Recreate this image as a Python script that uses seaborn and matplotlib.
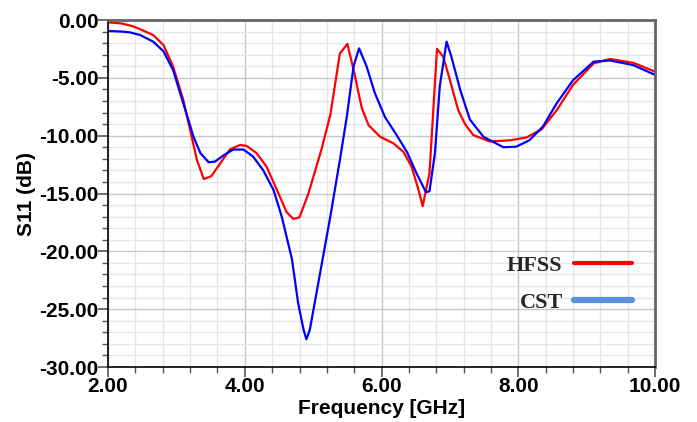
import numpy as np
import pandas as pd
import matplotlib
matplotlib.use("Agg")
import matplotlib.pyplot as plt
from matplotlib.lines import Line2D
from matplotlib.ticker import MultipleLocator, FormatStrFormatter
import seaborn as sns

hfss_f = [2.0, 2.2, 2.37, 2.47, 2.66, 2.81, 2.95, 3.10, 3.20, 3.30, 3.40, 3.51, 3.64, 3.78,
          3.93, 4.03, 4.17, 4.32, 4.47, 4.61, 4.71, 4.80, 4.93, 5.05, 5.12, 5.25, 5.39, 5.50,
          5.59, 5.71, 5.81, 5.98, 6.17, 6.32, 6.44, 6.54, 6.60, 6.70, 6.81, 6.90, 7.00, 7.12,
          7.22, 7.34, 7.58, 7.88, 8.12, 8.34, 8.56, 8.80, 9.10, 9.34, 9.68, 10.0]
hfss_s11 = [-0.2, -0.3, -0.55, -0.8, -1.3, -2.16, -4.0, -6.9, -9.5, -12.1, -13.75, -13.5,
            -12.4, -11.2, -10.8, -10.9, -11.5, -12.7, -14.7, -16.6, -17.2, -17.05, -15.0,
            -12.6, -11.2, -8.2, -2.9, -2.07, -4.3, -7.6, -9.1, -10.1, -10.65, -11.4, -12.7,
            -14.7, -16.1, -13.25, -2.5, -3.17, -5.2, -7.8, -9.0, -9.95, -10.5, -10.4, -10.15,
            -9.45, -7.8, -5.6, -3.75, -3.37, -3.7, -4.47]

cst_f = [2.0, 2.2, 2.32, 2.47, 2.66, 2.81, 2.95, 3.10, 3.25, 3.35, 3.47, 3.56, 3.69, 3.83,
         3.98, 4.12, 4.27, 4.42, 4.54, 4.69, 4.78, 4.86, 4.90, 4.95, 5.10, 5.25, 5.39, 5.49,
         5.59, 5.67, 5.78, 5.90, 6.05, 6.22, 6.37, 6.51, 6.65, 6.70, 6.78, 6.85, 6.95, 7.02,
         7.15, 7.29, 7.49, 7.78, 7.97, 8.16, 8.36, 8.56, 8.80, 9.10, 9.34, 9.68, 10.0]
cst_s11 = [-0.95, -1.0, -1.07, -1.3, -1.87, -2.7, -4.3, -7.2, -10.1, -11.5, -12.3, -12.25,
           -11.7, -11.2, -11.2, -11.8, -13.0, -14.7, -17.0, -20.7, -24.5, -26.8, -27.6,
           -26.8, -21.9, -17.0, -12.1, -8.4, -4.0, -2.45, -4.0, -6.3, -8.4, -9.95, -11.4,
           -13.25, -14.9, -14.8, -11.5, -5.75, -1.87, -3.17, -6.05, -8.6, -10.1, -11.0,
           -10.95, -10.4, -9.2, -7.2, -5.2, -3.6, -3.5, -3.9, -4.75]

series_names = ["HFSS", "CST"]
x_ticks = [2.0, 4.0, 6.0, 8.0, 10.0]
y_ticks = [0.0, -5.0, -10.0, -15.0, -20.0, -25.0, -30.0]

df = pd.concat([
    pd.DataFrame({"f": hfss_f, "s11": hfss_s11, "src": "HFSS"}),
    pd.DataFrame({"f": cst_f, "s11": cst_s11, "src": "CST"}),
])

sns.set_theme(style="white")
plt.rcParams["font.family"] = ["Liberation Sans", "DejaVu Sans"]

fig = plt.figure(figsize=(6.97, 4.22), dpi=100)
ax = fig.add_axes([0.155, 0.1303, 0.785, 0.8223])

sns.lineplot(data=df, x="f", y="s11", hue="src", palette={"HFSS": "#ff0000", "CST": "#0000ff"},
             sort=False, linewidth=1.6, ax=ax, legend=False, estimator=None)

ax.set_xlim(2, 10)
ax.set_ylim(-30, 0)
ax.set_xticks(x_ticks)
ax.set_yticks(y_ticks)
ax.xaxis.set_minor_locator(MultipleLocator(0.4))
ax.yaxis.set_minor_locator(MultipleLocator(1))
ax.xaxis.set_major_formatter(FormatStrFormatter("%.2f"))
ax.yaxis.set_major_formatter(FormatStrFormatter("%.2f"))
ax.grid(which="major", color="#c8c8c8", linewidth=1.0)
ax.grid(which="minor", color="#e6e6e6", linewidth=1.0)
ax.set_axisbelow(True)

ax.tick_params(axis="both", which="major", direction="out", length=7, width=1.2,
               labelsize=15, pad=0, color="#555555", bottom=True, left=True,
               labelcolor="black")
ax.tick_params(axis="both", which="minor", direction="out", length=4, width=1,
               color="#555555", bottom=True, left=True)
for lab in ax.get_xticklabels() + ax.get_yticklabels():
    lab.set_fontweight("bold")

for side in ["left", "bottom"]:
    ax.spines[side].set_color("black")
    ax.spines[side].set_linewidth(1.2)
for side in ["top", "right"]:
    ax.spines[side].set_color("#666666")
    ax.spines[side].set_linewidth(2)

ax.set_xlabel("Frequency [GHz]", fontsize=15, fontweight="bold", labelpad=2, color="black")
ax.set_ylabel("S11 (dB)", fontsize=15, fontweight="bold", labelpad=2, color="black")

handles = [Line2D([], [], color="#ff0000", linewidth=3),
           Line2D([], [], color="#5b8fd9", linewidth=4.5)]
leg = ax.legend(handles, series_names, loc="lower right", bbox_to_anchor=(0.973, 0.13),
                frameon=False, markerfirst=False, handlelength=2.6, handletextpad=0.5,
                labelspacing=0.75, borderaxespad=0,
                prop={"family": "Liberation Serif", "weight": "bold", "size": 16})

fig.savefig("out.png", dpi=100)
